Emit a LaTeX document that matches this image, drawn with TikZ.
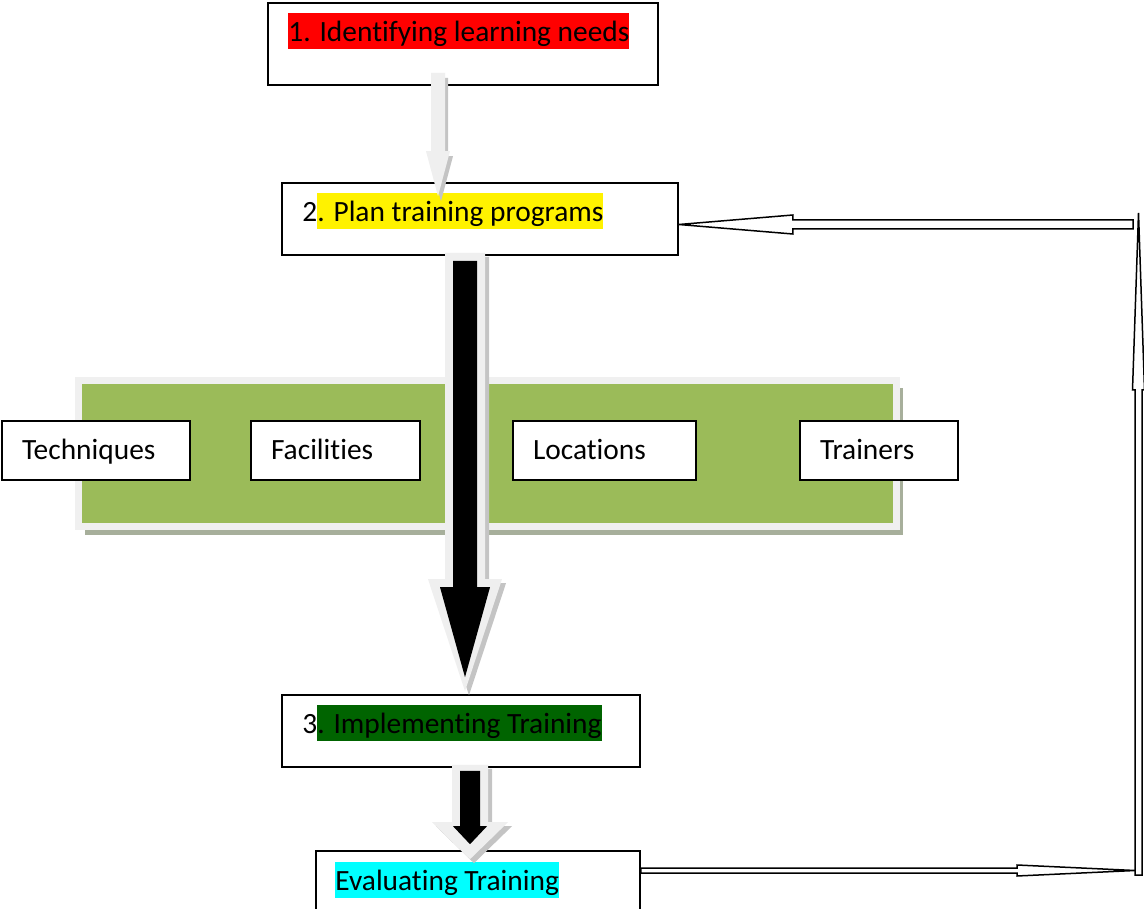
\documentclass[tikz,border=0pt]{standalone}
\usepackage{fontspec}
\setmainfont{Carlito}[Ligatures=CommonOff]
\usetikzlibrary{calc,shadows}

\definecolor{bandgreen}{HTML}{9BBB59}
\definecolor{bandedge}{HTML}{F0F0F0}
\definecolor{bandshade}{HTML}{A7AF9B}
\definecolor{arrowgrey}{HTML}{EFEFEF}
\definecolor{arrowshade}{HTML}{C4C4C4}
\definecolor{implgreen}{HTML}{006400}
\definecolor{evalcyan}{HTML}{00FFFF}

\setlength{\fboxsep}{0pt}
\newcommand{\hlt}[2]{\colorbox{#1}{\rule[-7.5pt]{0pt}{36pt}#2}}

\newcommand{\vblock}[5]{let \p1=(#1), \p2=(#2), \p3=($(\x1,\y2)!#5!(\x1,\y1)$) in
  (\x1-#3,\y1) -- (\x1-#3,\y3) -- (\x1-#4,\y3) -- (\x1,\y2)
  -- (\x1+#4,\y3) -- (\x1+#3,\y3) -- (\x1+#3,\y1) -- cycle}
\newcommand{\hblock}[5]{let \p1=(#1), \p2=(#2), \p3=($(\x2,\y1)!#5!(\x1,\y1)$) in
  (\x1,\y1-#3) -- (\x3,\y1-#3) -- (\x3,\y1-#4) -- (\x2,\y1)
  -- (\x3,\y1+#4) -- (\x3,\y1+#3) -- (\x1,\y1+#3) -- cycle}

\tikzset{
  mainbox/.style={draw, line width=1.6pt, fill=white, inner sep=0pt},
  smallbox/.style={draw, line width=1.6pt, fill=white, inner xsep=20pt, inner ysep=0pt,
    minimum height=59pt, text height=26pt, text depth=7pt, align=left},
  tag/.style={anchor=west, inner sep=0pt},
  band/.style={fill=bandgreen, draw=bandedge, line width=7pt, inner sep=0pt,
    drop shadow={shadow xshift=6pt, shadow yshift=-8pt, fill=bandshade, opacity=1}},
  hollow/.style={draw=black, fill=white, line width=1.5pt},
}

\begin{document}
\begin{tikzpicture}[x=1pt, y=-1pt, font=\fontsize{29.4}{36}\selectfont]
\useasboundingbox (0,0) rectangle (1144,909);

\node[band, minimum width=818pt, minimum height=146pt] (band) at (487.5,453.5) {};

\node[smallbox, text width=148pt] (tech) at (96,450.5) {Techniques};
\node[smallbox, text width=129pt] (fac) at (335.5,450.5) {Facilities};
\node[smallbox, text width=143pt] (loc) at (604.5,450.5) {Locations};
\node[smallbox, text width=118pt] (trn) at (879,450.5) {Trainers};

\node[mainbox, minimum width=390pt, minimum height=82pt] (ident) at (463,44) {};
\node[mainbox, minimum width=396pt, minimum height=72pt] (plan) at (480,219) {};
\node[mainbox, minimum width=358pt, minimum height=72pt] (impl) at (461,731) {};
\node[mainbox, minimum width=324pt, minimum height=75pt] (eval) at (478,888.5) {};

\node[tag] (identlbl) at ([xshift=21pt,yshift=-29pt]ident.north west) {\hlt{red}{1. Identifying learning needs}};
\node[tag] (planlbl) at ([xshift=21pt,yshift=-29pt]plan.north west) {2\hlt{yellow}{. Plan training programs}};
\node[tag] (impllbl) at ([xshift=21pt,yshift=-28.5pt]impl.north west) {3\hlt{implgreen}{. Implementing Training}};
\node[tag] (evallbl) at ([xshift=20pt,yshift=-29.5pt]eval.north west) {\hlt{evalcyan}{Evaluating Training}};

\begin{scope}[transform canvas={shift={(3pt,-5pt)}}]
\fill[arrowshade] \vblock{[xshift=-25pt,yshift=13pt]ident.south}{[yshift=-14pt]plan.north}{7pt}{12pt}{45pt};
\end{scope}
\fill[arrowgrey] \vblock{[xshift=-25pt,yshift=13pt]ident.south}{[yshift=-14pt]plan.north}{7pt}{12pt}{45pt};

\begin{scope}[transform canvas={shift={(4pt,-4pt)}}]
\fill[arrowshade] \vblock{[xshift=-15pt,yshift=3pt]plan.south}{[yshift=3pt]impl.north}{20pt}{37pt}{112pt};
\fill[arrowshade] \vblock{[xshift=9pt,yshift=3pt]impl.south}{[yshift=-9pt]eval.north}{18pt}{38pt}{37pt};
\end{scope}
\fill[arrowgrey] \vblock{[xshift=-15pt,yshift=3pt]plan.south}{[yshift=3pt]impl.north}{20pt}{37pt}{112pt};
\fill[black] \vblock{[xshift=-15pt,yshift=-5pt]plan.south}{[yshift=17pt]impl.north}{12pt}{25pt}{90pt};
\fill[arrowgrey] \vblock{[xshift=9pt,yshift=3pt]impl.south}{[yshift=-9pt]eval.north}{18pt}{38pt}{37pt};
\fill[black] \vblock{[xshift=9pt,yshift=-3pt]impl.south}{[yshift=6pt]eval.north}{10pt}{17pt}{18pt};

\coordinate (low) at (1135,870.5);
\coordinate (vbot) at (1138.5,875);
\coordinate (vtop) at (1138.5,213);
\coordinate (high) at (1133,224.5);
\filldraw[hollow] \hblock{eval.east |- low}{low}{2.5pt}{5.5pt}{118pt};
\filldraw[hollow] \vblock{vbot}{vtop}{3.5pt}{6pt}{177pt};
\filldraw[hollow] \hblock{high}{plan.east |- high}{4.5pt}{9.5pt}{114pt};
\end{tikzpicture}
\end{document}
